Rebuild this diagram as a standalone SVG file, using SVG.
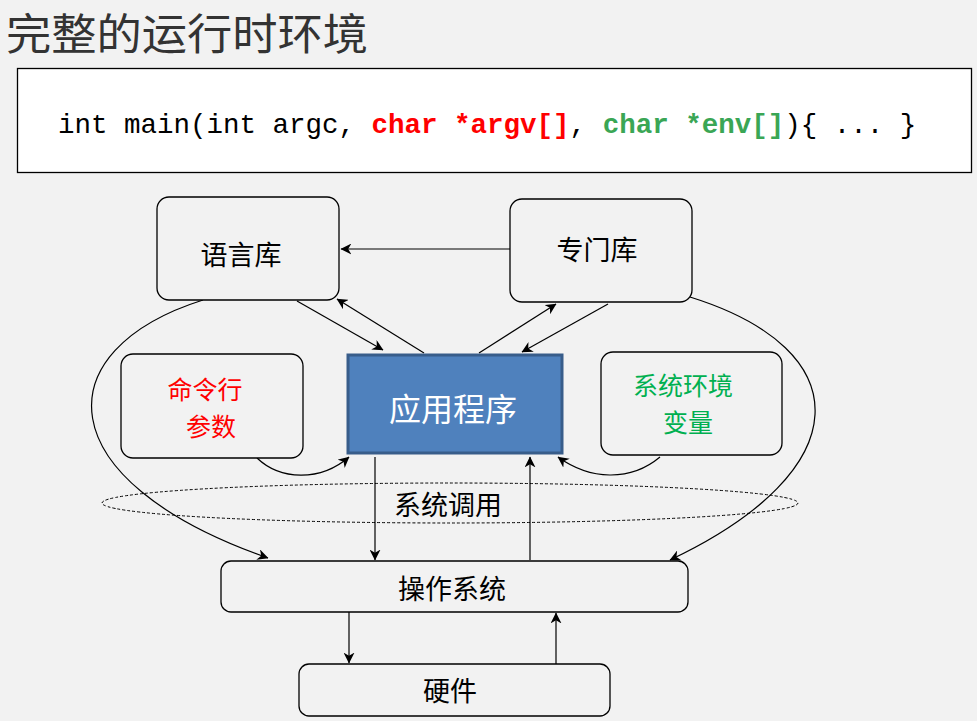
<svg xmlns="http://www.w3.org/2000/svg" width="977" height="721" viewBox="0 0 977 721">
<defs>
<marker id="ah" viewBox="0 0 10 10" refX="9.5" refY="5" markerWidth="11" markerHeight="11" markerUnits="userSpaceOnUse" orient="auto">
<path d="M0,0 L10,5 L0,10 L3,5 z" fill="#000"/>
</marker>
<style>
.box{fill:#f2f2f2;stroke:#000;stroke-width:1.3}
.t{font-family:"Noto Sans CJK SC","Liberation Sans",sans-serif;font-size:27px;text-anchor:middle;fill:#000}
.t2{font-size:25px}
.c{fill:none;stroke:#000;stroke-width:1.2}
.code{font-family:"Liberation Mono",monospace;font-size:27.5px;fill:#000}
</style>
</defs>
<rect width="977" height="721" fill="#f2f2f2"/>
<text x="6" y="50" font-family="Noto Sans CJK SC,sans-serif" font-size="43" fill="#333" textLength="362" lengthAdjust="spacingAndGlyphs">完整的运行时环境</text>
<g id="code">
<rect x="17.5" y="68.5" width="954" height="104" fill="#fff" stroke="#000" stroke-width="1.3"/>
<text class="code" x="58" y="133" xml:space="preserve">int main(int argc, <tspan fill="#ff0000" font-weight="bold">char *argv[]</tspan>, <tspan fill="#3aa655" font-weight="bold">char *env[]</tspan>){ ... }</text>
</g>
<g id="connectors">
<line class="c" x1="510" y1="249" x2="341" y2="249" marker-end="url(#ah)"/>
<line class="c" x1="297" y1="301" x2="383" y2="350" marker-end="url(#ah)"/>
<line class="c" x1="424" y1="353" x2="337" y2="299" marker-end="url(#ah)"/>
<line class="c" x1="479" y1="353" x2="556" y2="304" marker-end="url(#ah)"/>
<line class="c" x1="608" y1="304" x2="522" y2="352" marker-end="url(#ah)"/>
<path class="c" d="M257,458 C280,480 320,482 349,457" marker-end="url(#ah)"/>
<path class="c" d="M660,457 C630,482 590,480 558,457" marker-end="url(#ah)"/>
<path class="c" d="M203,300 C45,350 45,480 268,558" marker-end="url(#ah)"/>
<path class="c" d="M690,297 C860,350 860,470 670,560" marker-end="url(#ah)"/>
<line class="c" x1="375" y1="457" x2="375" y2="560" marker-end="url(#ah)"/>
<line class="c" x1="530" y1="560" x2="530" y2="457" marker-end="url(#ah)"/>
<line class="c" x1="349" y1="612" x2="349" y2="663" marker-end="url(#ah)"/>
<line class="c" x1="556" y1="664" x2="556" y2="613" marker-end="url(#ah)"/>
</g>
<g id="syscall">
<ellipse cx="450" cy="503" rx="348" ry="20" fill="none" stroke="#000" stroke-width="1" stroke-dasharray="3,2"/>
<text class="t" x="448" y="515">系统调用</text>
</g>
<g id="langlib">
<rect class="box" x="157" y="197" width="182" height="103" rx="12"/>
<text class="t" x="241" y="265">语言库</text>
</g>
<g id="speclib">
<rect class="box" x="510" y="199" width="182" height="103" rx="12"/>
<text class="t" x="597" y="260">专门库</text>
</g>
<g id="cmdargs">
<rect class="box" x="121" y="354" width="182" height="104" rx="12"/>
<text class="t t2" x="205" y="399" style="fill:#ff0000">命令行</text>
<text class="t t2" x="211" y="436" style="fill:#ff0000">参数</text>
</g>
<g id="app">
<rect x="348" y="355" width="214" height="98" fill="#4f81bd" stroke="#385d8a" stroke-width="3"/>
<text class="t" x="453" y="421" style="fill:#fff;font-size:32px">应用程序</text>
</g>
<g id="envvars">
<rect class="box" x="601" y="352" width="181" height="103" rx="12"/>
<text class="t t2" x="683" y="395" style="fill:#00b050">系统环境</text>
<text class="t t2" x="688" y="432" style="fill:#00b050">变量</text>
</g>
<g id="os">
<rect class="box" x="221" y="561" width="467" height="51" rx="10"/>
<text class="t" x="452" y="599">操作系统</text>
</g>
<g id="hw">
<rect class="box" x="299" y="664" width="311" height="52" rx="10"/>
<text class="t" x="450" y="701">硬件</text>
</g>
</svg>
